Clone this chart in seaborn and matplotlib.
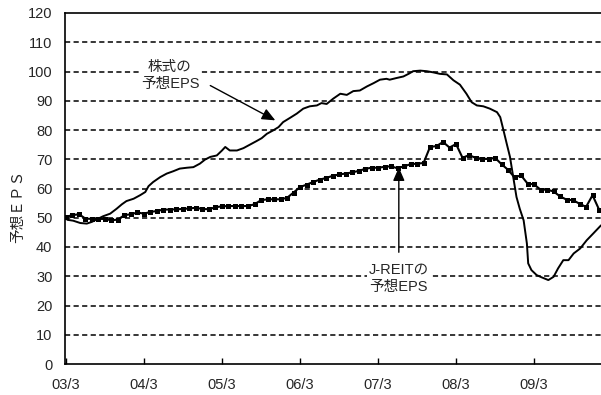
import numpy as np
import pandas as pd
import matplotlib
matplotlib.use("Agg")
import matplotlib.pyplot as plt
import seaborn as sns

sns.set_style("white")
plt.rcParams["font.family"] = ["Liberation Sans", "Noto Sans CJK JP", "DejaVu Sans"]

# Month offsets are counted from March 2003 (03/3 = 0)
tick_months = [0, 12, 24, 36, 48, 60, 72]
tick_labels = ["03/3", "04/3", "05/3", "06/3", "07/3", "08/3", "09/3"]

# J-REIT forecast EPS, monthly from 2003/3
jreit_eps = [
    50.3, 50.9, 51.2, 49.7, 49.6, 49.6, 49.6, 49.1, 49.4, 50.9,
    51.2, 51.8, 51.4, 52.0, 52.3, 52.8, 52.8, 52.9, 53.0, 53.2,
    53.4, 53.0, 52.9, 53.6, 53.9, 54.0, 54.0, 54.0, 54.0, 54.6,
    56.0, 56.3, 56.3, 56.3, 56.8, 58.6, 60.5, 61.3, 62.2, 63.0,
    63.6, 64.3, 64.8, 65.1, 65.5, 66.0, 66.7, 67.1, 67.1, 67.4,
    67.6, 66.9, 67.6, 68.3, 68.5, 68.7, 74.2, 74.5, 75.9, 74.0,
    75.2, 70.5, 71.4, 70.5, 70.2, 70.1, 70.5, 68.3, 66.4, 63.8,
    64.5, 61.7, 61.4, 59.6, 59.6, 59.0, 57.3, 56.2, 56.0, 54.8,
    53.7, 57.7, 52.8,
]
jreit_month = list(range(len(jreit_eps)))

# Stock forecast EPS (finer-grained series)
stock_month = [
    0.2, 1.1, 2.2, 3.2, 4.0, 4.7, 5.7, 6.8, 7.8, 8.6, 9.3, 10.4, 11.4,
    12.2, 12.7, 13.4, 14.5, 15.5, 16.5, 17.5, 18.6, 19.6, 20.6, 21.4,
    22.2, 23.2, 24.0, 24.5, 25.2, 26.3, 27.3, 28.3, 29.3, 30.1, 30.9,
    31.9, 32.7, 33.4, 34.5, 35.5, 36.5, 37.5, 38.6, 39.3, 40.1, 41.1,
    42.2, 43.2, 44.2, 45.2, 46.3, 47.3, 48.3, 49.3, 49.8, 50.9, 51.9,
    52.7, 53.4, 54.5, 55.5, 56.5, 57.5, 58.6, 59.6, 60.6, 61.6, 62.4,
    63.2, 64.2, 65.2, 66.3, 66.8, 67.3, 67.8, 68.3, 68.8, 69.3, 69.8,
    70.4, 70.9, 71.1, 71.6, 72.4, 73.2, 74.2, 75.0, 75.7, 76.5, 77.3,
    78.1, 79.1, 80.1, 81.1, 82.3,
]
stock_eps = [
    49.3, 49.0, 48.2, 48.0, 48.6, 49.4, 50.5, 51.4, 53.1, 54.6, 55.7, 56.5, 57.7,
    58.8, 60.8, 62.2, 63.9, 65.1, 65.9, 66.8, 67.1, 67.3, 68.5, 69.9,
    70.8, 71.3, 73.0, 74.2, 73.0, 73.0, 73.8, 75.0, 76.2, 77.2, 78.7,
    79.9, 81.0, 82.7, 84.2, 85.6, 87.3, 88.1, 88.4, 89.2, 88.9, 90.7,
    92.4, 92.0, 93.3, 93.5, 94.9, 96.0, 97.2, 97.5, 97.2, 97.8, 98.3,
    99.2, 100.1, 100.3, 100.1, 99.7, 99.2, 99.0, 97.0, 95.5, 92.4, 89.5,
    88.4, 88.1, 87.3, 86.1, 84.4, 79.9, 75.3, 70.8, 63.9, 57.1, 53.1,
    49.1, 41.2, 34.4, 32.1, 30.4, 29.6, 28.7, 29.8, 32.7, 35.5, 35.5,
    37.8, 39.5, 42.3, 44.6, 47.4,
]

jreit_df = pd.DataFrame({"month": jreit_month, "eps": jreit_eps})
stock_df = pd.DataFrame({"month": stock_month, "eps": stock_eps})

fig = plt.figure(figsize=(6.01, 3.95), dpi=100)
ax = fig.add_axes([65 / 601, 1 - 364 / 395, 1 - 65 / 601, (364 - 13) / 395])

# dashed horizontal grid
for yv in range(10, 120, 10):
    ax.axhline(yv, color="black", lw=1.1, ls=(0, (3.4, 2.2)), zorder=1)

sns.lineplot(data=stock_df, x="month", y="eps", ax=ax, color="black",
             lw=1.4, zorder=3, sort=False)
sns.lineplot(data=jreit_df, x="month", y="eps", ax=ax, color="black",
             lw=1.5, marker="s", markersize=3.6, markeredgewidth=0,
             zorder=4)

ax.set_xlim(-0.15, 82.3)
ax.set_ylim(0, 120)
ax.set_yticks(range(0, 121, 10))
ax.set_xticks(tick_months)
ax.set_xticklabels(tick_labels)
ax.tick_params(axis="y", length=0, pad=9, labelsize=10.5)
ax.tick_params(axis="x", direction="in", length=4, width=1, pad=10,
               labelsize=10.5, bottom=True, color="black")
ax.set_xlabel("")
ax.set_ylabel("")
for side in ["left", "bottom", "top"]:
    ax.spines[side].set_color("black")
    ax.spines[side].set_linewidth(1.2)
ax.spines["right"].set_visible(False)

fig.text(18 / 601, 1 - 206 / 395, "予想ＥＰＳ", rotation=90, ha="center",
         va="center", fontsize=10.5,
         family=["Noto Sans CJK JP", "DejaVu Sans"])

arrow_style = dict(arrowstyle="-|>,head_length=0.8,head_width=0.35",
                   color="black", lw=1.0, shrinkA=0, shrinkB=0)
label_box = dict(boxstyle="square,pad=0.15", fc="white", ec="none")

# stock label and arrow
ax.text(16.0, 98.7, "株式の\n予想EPS", ha="center", va="center",
        fontsize=10.5, linespacing=1.3, bbox=label_box, zorder=5)
ax.annotate("", xy=(32.2, 83.3), xytext=(22.2, 95.2),
            arrowprops=arrow_style, zorder=5)

# J-REIT label and arrow
ax.annotate("", xy=(51.2, 67.2), xytext=(51.2, 38.2),
            arrowprops=arrow_style, zorder=5)
ax.text(51.2, 29.4, "J-REITの\n予想EPS", ha="center", va="center",
        fontsize=10.5, linespacing=1.3, bbox=label_box, zorder=5)

fig.savefig("out.png", dpi=100)
